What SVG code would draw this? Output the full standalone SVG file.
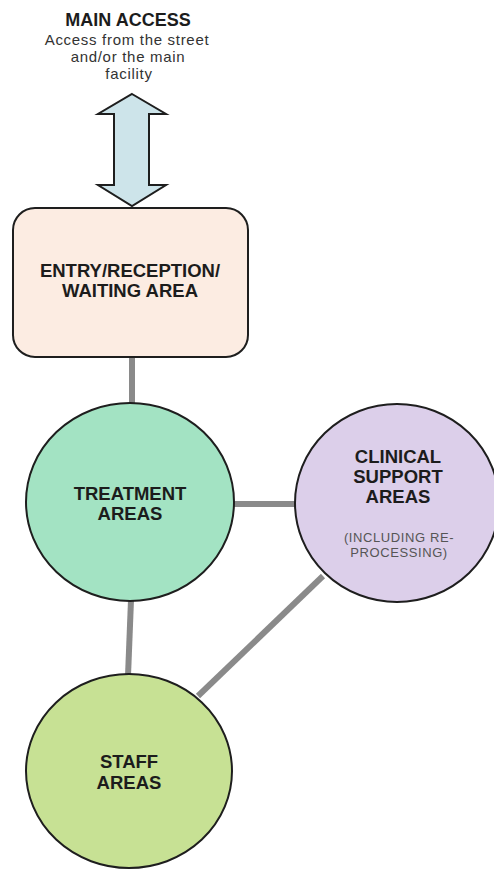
<svg xmlns="http://www.w3.org/2000/svg" width="494" height="870" viewBox="0 0 494 870">
  <defs>
    <style>
      .bg { fill: #ffffff; }
      .shape { stroke: #1e1e1e; stroke-width: 2; }
      .link { stroke: #8a8a8a; stroke-width: 6; fill: none; }
      .label { font-family: "Liberation Sans", Arial, sans-serif; font-weight: bold; font-size: 18.5px; fill: #1c1c1c; text-anchor: middle; }
      .title { font-family: "Liberation Sans", Arial, sans-serif; font-weight: bold; font-size: 18px; fill: #1c1c1c; text-anchor: middle; }
      .sub { font-family: "Liberation Sans", Arial, sans-serif; font-size: 15px; letter-spacing: 0.7px; fill: #333333; text-anchor: middle; }
      .note { font-family: "Liberation Sans", Arial, sans-serif; font-size: 13px; letter-spacing: 0.6px; fill: #555555; text-anchor: middle; }
    </style>
  </defs>

  <rect class="bg" x="0" y="0" width="494" height="870"/>

  <!-- connectors between areas -->
  <g id="connectors">
    <line class="link" x1="132" y1="357" x2="132" y2="404"/>
    <line class="link" x1="233" y1="504" x2="296" y2="504"/>
    <line class="link" x1="131" y1="600" x2="128" y2="676"/>
    <line class="link" x1="323" y1="576" x2="198" y2="696"/>
  </g>

  <!-- main access label and two-way arrow -->
  <g id="main-access">
    <text class="title" x="128" y="26">MAIN ACCESS</text>
    <text class="sub" x="127" y="45">Access from the street</text>
    <text class="sub" x="128" y="62">and/or the main</text>
    <text class="sub" x="129" y="79">facility</text>
    <polygon class="shape" fill="#cde4ea"
      points="132,94 166,114 149,114 149,185 166,185 132,206 98,185 114,185 114,114 98,114"/>
  </g>

  <g id="entry-reception">
    <rect class="shape" fill="#fcece2" x="13" y="208" width="235" height="149" rx="22" ry="22"/>
    <text class="label" x="130" y="277">ENTRY/RECEPTION/</text>
    <text class="label" x="130" y="297">WAITING AREA</text>
  </g>

  <g id="treatment-areas">
    <ellipse class="shape" fill="#a3e3c3" cx="130" cy="502" rx="104" ry="99"/>
    <text class="label" x="130" y="500">TREATMENT</text>
    <text class="label" x="130" y="520">AREAS</text>
  </g>

  <g id="clinical-support">
    <ellipse class="shape" fill="#dccfea" cx="397" cy="503" rx="102" ry="99"/>
    <text class="label" x="398" y="463">CLINICAL</text>
    <text class="label" x="398" y="483">SUPPORT</text>
    <text class="label" x="398" y="503">AREAS</text>
    <text class="note" x="399" y="542">(INCLUDING RE-</text>
    <text class="note" x="399" y="557">PROCESSING)</text>
  </g>

  <g id="staff-areas">
    <ellipse class="shape" fill="#c7e194" cx="129" cy="771" rx="103" ry="97"/>
    <text class="label" x="129" y="768">STAFF</text>
    <text class="label" x="129" y="789">AREAS</text>
  </g>
</svg>
